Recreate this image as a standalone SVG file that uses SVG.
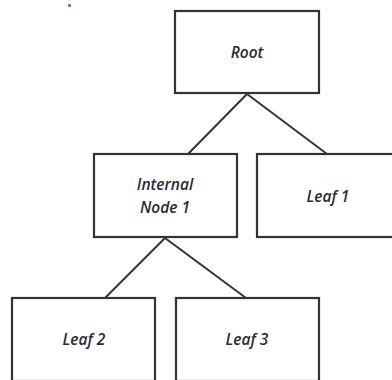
<svg xmlns="http://www.w3.org/2000/svg" width="392" height="380" viewBox="0 0 392 380">
<style>
.box{fill:#fff;stroke:#333;stroke-width:2.2}
.edge{stroke:#333;stroke-width:2;fill:none}
.lbl{font-family:"Open Sans","Liberation Sans",sans-serif;font-style:italic;font-weight:600;font-size:15.5px;fill:#2a2a3a;text-anchor:middle}
</style>
<rect width="392" height="380" fill="#fff"/>
<rect x="68" y="4" width="3" height="3" fill="#6a86b8"/>
<g id="connectors">
<line class="edge" x1="247" y1="94" x2="188" y2="154"/>
<line class="edge" x1="247" y1="94" x2="327" y2="154"/>
<line class="edge" x1="165" y1="238" x2="105" y2="298"/>
<line class="edge" x1="165" y1="238" x2="246" y2="298"/>
</g>
<g id="root">
<rect class="box" x="175" y="11" width="144" height="82"/>
<text class="lbl" x="247" y="58">Root</text>
</g>
<g id="internal1">
<rect class="box" x="94" y="154" width="143" height="83"/>
<text class="lbl" x="165" y="190">Internal</text>
<text class="lbl" x="165" y="213">Node 1</text>
</g>
<g id="leaf1">
<rect class="box" x="257" y="154" width="143" height="83"/>
<text class="lbl" x="328" y="202">Leaf 1</text>
</g>
<g id="leaf2">
<rect class="box" x="12" y="298" width="143" height="83"/>
<text class="lbl" x="84" y="345">Leaf 2</text>
</g>
<g id="leaf3">
<rect class="box" x="176" y="298" width="143" height="83"/>
<text class="lbl" x="247" y="345">Leaf 3</text>
</g>
</svg>
